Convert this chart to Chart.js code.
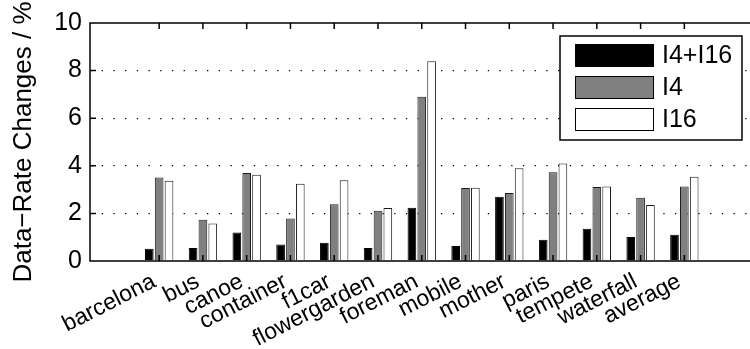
<!DOCTYPE html>
<html>
<head>
<meta charset="utf-8">
<script src="https://cdn.jsdelivr.net/npm/chart.js@4/dist/chart.umd.min.js"></script>
<style>
  html, body { margin: 0; padding: 0; background: #fff; overflow: hidden; }
  #wrap { width: 750px; height: 349px; }
</style>
</head>
<body>
<div id="wrap"><canvas id="myChart"></canvas></div>
<script>
const categories = ['barcelona', 'bus', 'canoe', 'container', 'f1car', 'flowergarden',
  'foreman', 'mobile', 'mother', 'paris', 'tempete', 'waterfall', 'average'];
const seriesNames = ['I4+I16', 'I4', 'I16'];
const valuesI4I16 = [0.51, 0.55, 1.20, 0.69, 0.77, 0.55, 2.24, 0.63, 2.70, 0.89, 1.35, 1.01, 1.10];
const valuesI4 = [3.51, 1.73, 3.70, 1.79, 2.38, 2.11, 6.90, 3.07, 2.86, 3.73, 3.11, 2.66, 3.13];
const valuesI16 = [3.37, 1.58, 3.62, 3.25, 3.39, 2.23, 8.39, 3.08, 3.90, 4.10, 3.13, 2.35, 3.54];
const yTicks = [0, 2, 4, 6, 8, 10];

const FONT = "'Liberation Sans', Arial, Helvetica, sans-serif";
const ctx = document.getElementById('myChart').getContext('2d');

// bars sit at x = 1..13 on a linear axis so the frame can run past the last group
const toPoints = vals => vals.map((v, i) => ({ x: i + 1, y: v }));

// frame, inward ticks and the boxed legend, drawn Matlab-style
const framePlugin = {
  id: 'frame',
  afterDatasetsDraw(chart) {
    const c = chart.ctx;
    const a = chart.chartArea;
    const x = chart.scales.x;
    const y = chart.scales.y;
    c.save();
    c.strokeStyle = '#000';
    c.lineWidth = 1.5;
    c.beginPath();
    c.moveTo(a.right, a.top);
    c.lineTo(a.left, a.top);
    c.lineTo(a.left, a.bottom);
    c.lineTo(a.right, a.bottom);
    categories.forEach((cat, i) => {
      const px = x.getPixelForValue(i + 1);
      c.moveTo(px, a.top); c.lineTo(px, a.top + 6);
      c.moveTo(px, a.bottom); c.lineTo(px, a.bottom - 6);
    });
    yTicks.forEach(v => {
      const py = y.getPixelForValue(v);
      c.moveTo(a.left, py); c.lineTo(a.left + 6, py);
    });
    c.stroke();

    // legend
    const lx = 560, ly = 36, lw = 182, lh = 104;
    c.fillStyle = '#fff';
    c.fillRect(lx, ly, lw, lh);
    c.lineWidth = 1.5;
    c.strokeRect(lx, ly, lw, lh);
    c.font = '25px ' + FONT;
    c.textBaseline = 'middle';
    chart.data.datasets.forEach((ds, i) => {
      const sy = ly + 8 + i * 32;
      c.fillStyle = ds.backgroundColor;
      c.fillRect(575, sy, 79, 23);
      c.lineWidth = 1;
      c.strokeStyle = '#000';
      c.strokeRect(575.5, sy + 0.5, 78, 22);
      c.fillStyle = '#000';
      c.fillText(ds.label, 662, sy + 12);
    });
    c.restore();
  }
};

new Chart(ctx, {
  type: 'bar',
  data: {
    datasets: [
      { label: seriesNames[0], data: toPoints(valuesI4I16), backgroundColor: '#000000', borderColor: '#000000' },
      { label: seriesNames[1], data: toPoints(valuesI4), backgroundColor: '#808080', borderColor: '#1a1a1a' },
      { label: seriesNames[2], data: toPoints(valuesI16), backgroundColor: '#ffffff', borderColor: '#1a1a1a' }
    ]
  },
  options: {
    responsive: true,
    maintainAspectRatio: false,
    animation: false,
    layout: { padding: { top: 23, right: 0, left: 0, bottom: 0 } },
    datasets: {
      bar: { categoryPercentage: 0.675, barPercentage: 0.88, borderWidth: 1 }
    },
    plugins: {
      legend: { display: false },
      tooltip: { enabled: false }
    },
    scales: {
      x: {
        type: 'linear',
        min: 0,
        max: 13.92,
        afterBuildTicks: scale => {
          scale.ticks = categories.map((c, i) => ({ value: i + 1 }));
        },
        afterFit: scale => { scale.height = 88; },
        grid: { display: false, drawTicks: false },
        border: { display: false },
        ticks: {
          autoSkip: false,
          minRotation: 27,
          maxRotation: 27,
          padding: 7,
          labelOffset: -5,
          color: '#000',
          font: { family: FONT, size: 23 },
          callback: v => categories[v - 1] || ''
        }
      },
      y: {
        min: 0,
        max: 10,
        afterBuildTicks: scale => {
          scale.ticks = yTicks.map(v => ({ value: v }));
        },
        afterFit: scale => { scale.width = 90; },
        grid: {
          color: c => (c.tick && (c.tick.value === 0 || c.tick.value === 10)) ? 'rgba(0,0,0,0)' : '#000',
          lineWidth: 1.3,
          drawTicks: false
        },
        border: { display: false, dash: [1.3, 10.4] },
        ticks: {
          padding: 8,
          color: '#000',
          font: { family: FONT, size: 25 }
        },
        title: {
          display: true,
          text: 'Data\u2212Rate Changes / %',
          color: '#000',
          font: { family: FONT, size: 26 },
          padding: { top: 8, bottom: 0 }
        }
      }
    }
  },
  plugins: [framePlugin]
});
</script>
</body>
</html>
